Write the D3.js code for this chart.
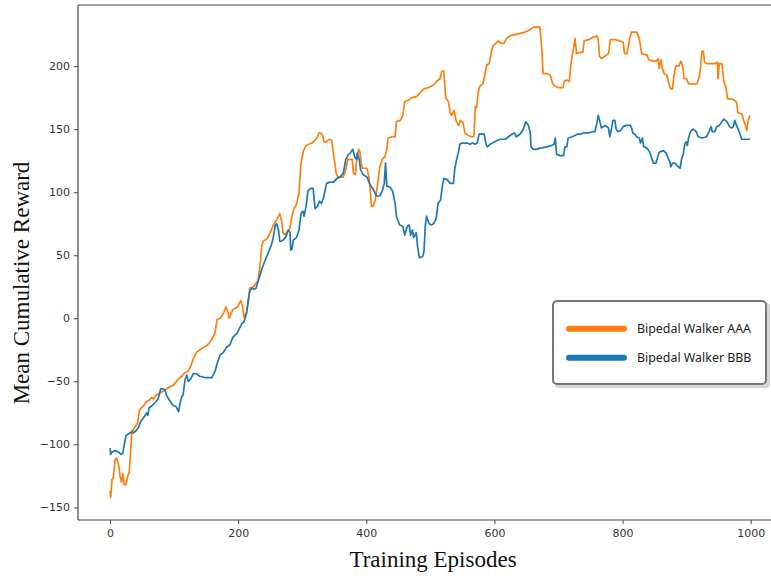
<!DOCTYPE html>
<html><head><meta charset="utf-8">
<script src="https://cdn.jsdelivr.net/npm/d3@7"></script>
<style>html,body{margin:0;padding:0;background:#fff;overflow:hidden}</style>
</head><body>
<svg id="c" width="771" height="576"></svg>
<script>
const seriesNames = ["Bipedal Walker AAA", "Bipedal Walker BBB"];
const seriesColors = ["#ff7f0e", "#1f77b4"];
const xTicks = [0, 200, 400, 600, 800, 1000];
const yTicks = [-150, -100, -50, 0, 50, 100, 150, 200];

const aaaEpisodes = [0,1,2,3,5,8,10,13,16,18,20,22,25,27,30,32,34,36,39,43,46,49,53,57,61,65,68,72,78,86,91,99,107,112,117,122,126,130,135,143,150,156,161,164,167,172,177,181,184,186,189,192,199,204,207,209,213,216,218,224,228,231,234,237,239,245,250,255,260,265,268,270,273,277,280,284,287,291,295,298,302,306,310,315,319,323,326,329,332,334,338,342,346,350,353,356,364,368,371,375,378,380,383,385,388,390,392,394,401,404,406,408,411,414,417,421,426,429,432,434,440,445,447,453,457,460,466,471,479,486,490,497,505,510,515,518,521,524,528,531,533,537,540,544,547,551,554,559,565,568,570,572,575,577,582,585,588,592,596,598,602,606,610,615,619,624,632,640,648,656,661,671,674,676,682,687,691,695,700,707,709,713,717,719,722,726,728,734,738,740,747,754,760,762,764,767,773,778,781,788,796,801,803,807,811,814,822,826,830,835,838,841,848,853,856,857,860,862,865,869,873,875,878,880,883,888,891,894,896,900,903,908,916,920,922,924,926,928,931,939,944,948,949,951,955,958,961,964,970,975,978,980,986,989,992,994,996,999];
const aaaValues = [-137,-142,-136,-128,-127,-112,-111,-115,-126,-130,-123,-132,-132,-126,-122,-107,-89,-89,-86,-83,-73,-71,-69,-66,-65,-63,-64,-61,-59,-57,-55,-53,-48,-46,-43,-42,-38,-32,-27,-24,-22,-19,-15,-11,-1,0,4,9,5,0,4,7,9,14,9,1,4,14,24,25,28,30,41,58,61,63,68,74,78,83,77,68,66,69,70,81,87,90,100,123,133,137,138,139,141,143,147,147,145,140,140,142,141,126,115,112,112,118,126,126,126,115,114,126,134,132,123,119,119,112,103,89,89,94,104,120,127,128,134,143,144,144,156,157,161,172,173,175,176,180,182,183,185,188,190,196,196,175,172,163,161,165,157,153,157,155,147,145,144,144,168,167,180,184,186,193,201,202,213,216,218,220,218,218,222,224,225,226,227,229,231,231,213,194,194,193,186,184,183,183,188,189,188,200,210,222,210,211,211,220,221,223,224,221,208,206,208,210,221,221,220,219,210,210,222,227,227,222,210,209,209,205,204,204,206,198,205,198,194,193,185,182,182,192,200,200,204,200,190,190,186,186,186,192,201,212,212,203,202,202,202,203,190,202,202,188,184,174,174,173,171,163,162,157,153,149,157,161];

const bbbEpisodes = [0,1,3,8,13,17,20,22,25,31,34,36,41,44,47,49,52,55,57,59,61,64,68,72,75,79,83,86,88,94,98,103,107,109,112,114,117,120,122,126,130,135,140,148,159,164,167,172,177,182,187,192,198,202,206,209,213,216,218,221,225,228,231,235,239,243,247,251,254,258,260,263,265,267,270,275,278,281,282,284,286,291,295,298,301,303,306,309,313,317,320,324,327,330,333,338,343,349,354,359,364,368,372,375,379,382,385,386,389,391,395,401,406,411,416,421,425,428,430,432,437,441,445,447,452,457,460,464,467,469,472,474,478,480,483,488,490,492,494,498,502,505,509,512,516,519,521,526,531,536,538,541,544,546,549,557,562,566,570,573,576,582,584,587,589,593,597,604,609,617,622,627,631,634,640,645,649,653,656,657,661,666,671,682,689,693,695,697,702,708,710,713,715,721,726,729,734,739,747,752,757,760,762,765,767,773,778,780,783,785,788,790,793,797,801,806,812,814,816,819,822,826,828,831,833,838,842,845,848,852,856,858,864,868,871,874,875,878,882,885,890,892,895,897,899,901,903,906,910,915,918,924,931,934,938,940,944,947,951,955,958,963,967,970,973,975,978,982,986,991,999];
const bbbValues = [-103,-108,-106,-105,-106,-108,-107,-101,-93,-91,-90,-91,-89,-87,-83,-81,-79,-77,-75,-77,-71,-70,-68,-66,-64,-56,-56,-57,-61,-66,-69,-70,-74,-68,-62,-61,-49,-45,-50,-48,-44,-44,-46,-47,-47,-42,-36,-29,-27,-23,-21,-15,-12,-8,-4,-3,4,15,21,24,23,24,29,36,42,47,52,57,62,74,75,70,61,61,62,65,70,68,54,55,62,64,70,83,85,81,89,101,103,103,87,89,93,91,95,107,108,108,111,112,115,126,130,131,134,128,126,131,126,118,114,112,106,102,97,97,101,107,123,105,104,101,91,81,74,73,66,73,74,66,70,64,68,57,48,49,53,73,81,75,74,75,79,91,94,106,111,110,107,107,118,126,132,138,139,139,138,139,138,139,146,146,146,138,136,138,139,141,142,142,144,146,147,144,146,150,156,153,147,136,134,134,135,136,137,138,143,130,129,129,136,136,143,144,145,146,146,147,147,148,148,155,161,155,151,153,151,144,151,157,157,150,148,149,152,153,153,151,147,146,144,143,139,143,136,135,132,128,123,123,130,132,133,131,127,124,120,123,123,121,119,126,131,138,140,137,143,148,150,148,144,143,144,147,152,148,148,152,153,156,158,156,152,151,152,157,153,148,142,142,142];

const svg = d3.select("#c");
const x = d3.scaleLinear().domain([-50, 1000]).range([78, 750.7]);
const y = d3.scaleLinear().domain([-160, 248.5]).range([520, 5]);
const axisColor = "#444";
const tickFont = "'DejaVu Sans', sans-serif";

// top spine
svg.append("line").attr("x1", 78).attr("x2", 800).attr("y1", y(248.5)).attr("y2", y(248.5))
  .attr("stroke", axisColor).attr("stroke-width", 1.2);

// lines
const series = [
  {name: seriesNames[0], color: seriesColors[0], data: aaaEpisodes.map((e, i) => [e, aaaValues[i]])},
  {name: seriesNames[1], color: seriesColors[1], data: bbbEpisodes.map((e, i) => [e, bbbValues[i]])}
];
const line = d3.line().x(d => x(d[0])).y(d => y(d[1]));
series.forEach(s => {
  svg.append("path").attr("d", line(s.data)).attr("fill", "none")
    .attr("stroke", s.color).attr("stroke-width", 1.7).attr("stroke-linejoin", "round");
});

// axes
const xAxis = d3.axisBottom(x).tickValues(xTicks).tickSize(4).tickPadding(5).tickFormat(d3.format("d"));
const gx = svg.append("g").attr("transform", `translate(0,520)`).call(xAxis);
gx.select(".domain").attr("d", "M78,0H800");
const yAxis = d3.axisLeft(y).tickValues(yTicks).tickSize(4).tickPadding(4)
  .tickFormat(d => d < 0 ? "\u2212" + Math.abs(d) : String(d));
const gy = svg.append("g").attr("transform", `translate(78,0)`).call(yAxis);
gy.select(".domain").attr("d", `M0,${y(248.5)}V520`);
[gx, gy].forEach(g => {
  g.selectAll(".domain").attr("stroke", axisColor).attr("stroke-width", 1.2);
  g.selectAll(".tick line").attr("stroke", axisColor).attr("stroke-width", 1);
  g.selectAll(".tick text").attr("fill", "#333").style("font-family", tickFont).style("font-size", "11px");
});

// axis labels
svg.append("text").attr("x", 433).attr("y", 567).attr("text-anchor", "middle")
  .style("font-family", "'Liberation Serif', 'DejaVu Serif', serif").style("font-size", "23px")
  .attr("fill", "#111").text("Training Episodes");
svg.append("text").attr("transform", "translate(29,283) rotate(-90)").attr("text-anchor", "middle")
  .style("font-family", "'Liberation Serif', 'DejaVu Serif', serif").style("font-size", "23px")
  .attr("fill", "#111").text("Mean Cumulative Reward");

// legend
const lg = svg.append("g");
lg.append("rect").attr("x", 555).attr("y", 303).attr("width", 215).attr("height", 85).attr("rx", 4)
  .attr("fill", "#bbb").attr("opacity", 0.6);
lg.append("rect").attr("x", 553).attr("y", 301).attr("width", 213).attr("height", 83).attr("rx", 4)
  .attr("fill", "#fff").attr("stroke", "#777").attr("stroke-width", 2);
series.forEach((s, i) => {
  const ly = 328.7 + i * 29;
  lg.append("line").attr("x1", 569).attr("x2", 624).attr("y1", ly).attr("y2", ly)
    .attr("stroke", s.color).attr("stroke-width", 6).attr("stroke-linecap", "round");
  lg.append("text").attr("x", 637).attr("y", ly + 4.5)
    .style("font-family", "'Noto Sans', sans-serif").style("font-size", "12.4px")
    .attr("fill", "#222").text(s.name);
});
</script>
</body></html>
